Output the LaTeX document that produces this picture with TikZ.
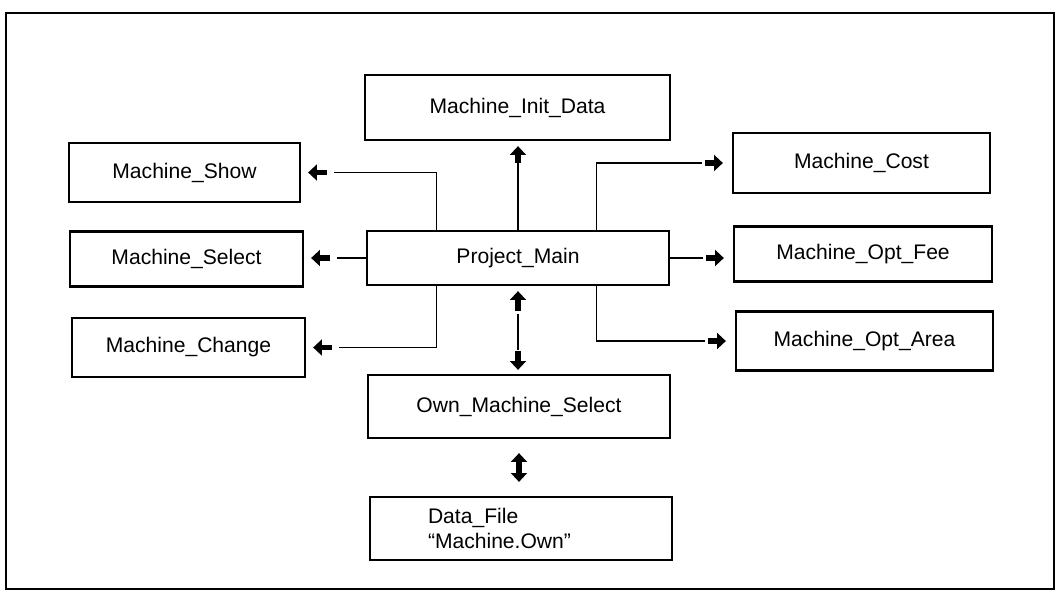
\documentclass[tikz,border=0pt]{standalone}
\usepackage{fontspec}
\setmainfont{Liberation Sans}
\usepackage{tikz}
\usetikzlibrary{arrows.meta}

\begin{document}
\begin{tikzpicture}[x=0.02cm,y=-0.02cm,
  box/.style={draw,line width=1.3pt,inner sep=0pt,font=\fontsize{12}{14.5}\selectfont},
  link/.style={line width=0.7pt},
  fat/.style={line width=3.2pt,-{Triangle[length=5pt,width=9pt]}},
  fatboth/.style={line width=3.2pt,{Triangle[length=5pt,width=9pt]}-{Triangle[length=5pt,width=9pt]}}]
  \useasboundingbox (0,0) rectangle (1057,593);
  \draw[line width=0.8pt] (6,13) rectangle (1054,589);
  \node[box,minimum width=6.1cm,minimum height=1.3cm] (init) at (517.5,107.5) {Machine\_Init\_Data};
  \node[box,minimum width=6.04cm,minimum height=1.08cm] (pm) at (518,258) {Project\_Main};
  \node[box,minimum width=6.04cm,minimum height=1.26cm] (own) at (519,406.5) {Own\_Machine\_Select};
  \node[box,minimum width=6.04cm,minimum height=1.26cm,inner xsep=1.16cm,text width=3.72cm,align=left] (data) at (521,528.5) {Data\_File\\“Machine.Own”};
  \node[box,minimum width=4.62cm,minimum height=1.18cm] (show) at (184.5,172.5) {Machine\_Show};
  \node[box,minimum width=4.66cm,minimum height=1.1cm] (select) at (186.5,259) {Machine\_Select};
  \node[box,minimum width=4.66cm,minimum height=1.18cm] (change) at (188.5,347.5) {Machine\_Change};
  \node[box,minimum width=5.14cm,minimum height=1.2cm] (cost) at (861.5,163) {Machine\_Cost};
  \node[box,minimum width=5.16cm,minimum height=1.1cm] (fee) at (863,254) {Machine\_Opt\_Fee};
  \node[box,minimum width=5.14cm,minimum height=1.18cm] (area) at (864.5,341) {Machine\_Opt\_Area};
  \draw[link,shorten >=0.4cm] (pm.north) -- (pm.north |- init.south);
  \draw[fat] ([yshift=-0.44cm]pm.north |- init.south) -- ([yshift=-0.1cm]pm.north |- init.south);
  \draw[link,shorten >=0.66cm] ([xshift=1.42cm]pm.north west) |- (show.east);
  \draw[fat] ([xshift=0.52cm]show.east) -- ([xshift=0.14cm]show.east);
  \draw[link,shorten >=0.66cm] (pm.west) -- (pm.west -| select.east);
  \draw[fat] ([xshift=0.52cm]pm.west -| select.east) -- ([xshift=0.14cm]pm.west -| select.east);
  \draw[link,shorten >=0.66cm] ([xshift=1.42cm]pm.south west) |- (change.east);
  \draw[fat] ([xshift=0.52cm]change.east) -- ([xshift=0.14cm]change.east);
  \draw[link,shorten >=0.6cm] ([xshift=-1.48cm]pm.north east) |- (cost.west);
  \draw[fat] ([xshift=-0.54cm]cost.west) -- ([xshift=-0.18cm]cost.west);
  \draw[link,shorten >=0.6cm] (pm.east) -- (pm.east -| fee.west);
  \draw[fat] ([xshift=-0.54cm]pm.east -| fee.west) -- ([xshift=-0.18cm]pm.east -| fee.west);
  \draw[link,shorten >=0.6cm] ([xshift=-1.48cm]pm.south east) |- (area.west);
  \draw[fat] ([xshift=-0.54cm]area.west) -- ([xshift=-0.18cm]area.west);
  \draw[link,shorten <=0.56cm,shorten >=0.48cm] (pm.south) -- (pm.south |- own.north);
  \draw[fat] ([yshift=-0.5cm]pm.south) -- ([yshift=-0.1cm]pm.south);
  \draw[fat] ([yshift=0.46cm]pm.south |- own.north) -- ([yshift=0.08cm]pm.south |- own.north);
  \draw[fatboth,shorten <=0.28cm,shorten >=0.28cm] (own.south) -- (own.south |- data.north);
\end{tikzpicture}
\end{document}
